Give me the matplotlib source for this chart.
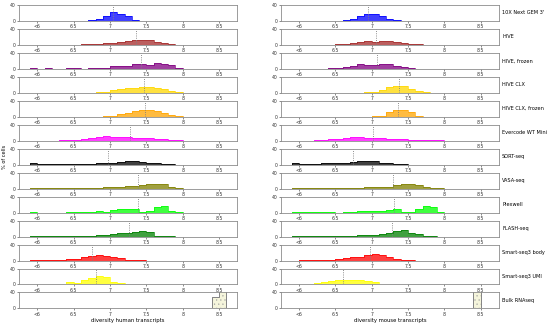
import numpy as np
import matplotlib.pyplot as plt

# bins of 0.1, first bin collects everything below 6
edges = np.round(np.arange(5.9, 8.75, 0.1), 2)

samples = ["10X Next GEM 3'", "HIVE", "HIVE, frozen", "HIVE CLX", "HIVE CLX, frozen",
           "Evercode WT Mini", "SORT-seq", "VASA-seq", "Plexwell", "FLASH-seq",
           "Smart-seq3 body", "Smart-seq3 UMI", "Bulk RNAseq"]
colors = ["blue", "brown", "purple", "gold", "orange", "magenta", "black", "olive",
          "lime", "green", "red", "yellow", "beige"]

xticks = [6, 6.5, 7, 7.5, 8, 8.5]
xticklabels = ["<6", "6.5", "7", "7.5", "8", "8.5"]

# % of cells per bin:  <6 | 6.0-6.4 | 6.5-6.9 | 7.0-7.4 | 7.5-7.9 | 8.0-8.6
h_10x = [0.5, 0.2, 0.2, 0.2, 0.3, 0.3, 0.4, 0.6, 1, 5, 12, 22, 18, 12, 3, 0.5, 0.3, 0, 0, 0, 0, 0, 0, 0, 0, 0, 0, 0]
h_hive = [0.3, 0.2, 0.2, 0.2, 0.3, 0.4, 0.6, 1, 2, 3, 4, 5, 7, 10, 12, 13, 11, 8, 5, 2, 0.5, 0, 0, 0, 0, 0, 0, 0]
h_hive_fr = [2, 0.3, 0.8, 0.3, 0.5, 1.5, 1.5, 0.5, 1, 1, 1.5, 7, 7, 8, 12, 12, 10, 14, 11, 9, 2, 0, 0, 0, 0, 0, 0, 0]
h_clx = [0, 0, 0, 0, 0, 0, 0.2, 0.3, 0.5, 1, 3, 6, 10, 12, 13, 14, 14, 12, 9, 5, 1, 0, 0, 0, 0, 0, 0, 0]
h_clx_fr = [0, 0, 0, 0, 0, 0, 0, 0.2, 0.3, 0.5, 1, 3, 6, 10, 14, 16, 17, 14, 10, 5, 2, 0.3, 0, 0, 0, 0, 0, 0]
h_evercode = [0, 0, 0, 0.3, 0.5, 0.8, 1.5, 3, 6, 8, 11, 10, 9, 8, 7, 7, 6, 5, 3, 2, 1, 0.3, 0, 0, 0, 0, 0, 0]
h_sort = [5, 1.5, 1, 1, 1.5, 1.5, 2, 2, 2.5, 3, 5, 4, 7, 8, 8, 6, 4, 3, 2, 1, 0.3, 0, 0, 0, 0, 0, 0, 0]
h_vasa = [0.3, 0.3, 0.5, 0.5, 1, 1.5, 1.5, 1.5, 2, 2, 3, 3, 5, 6, 7, 8, 11, 12, 12, 4, 1, 0, 0, 0, 0, 0, 0, 0]
h_plex = [1, 0, 0, 0, 0, 0.3, 0.3, 0.5, 0.5, 4, 2, 6, 9, 10, 9, 2, 3, 13, 17, 3, 0.3, 0, 0, 0, 0, 0, 0, 0]
h_flash = [0.2, 0.2, 0.2, 0.2, 0.2, 0.2, 1, 1.5, 2, 3, 4, 6, 8, 10, 11, 13, 11, 2, 1, 0.5, 0, 0, 0, 0, 0, 0, 0, 0]
h_ss3_body = [2, 1, 1, 1.5, 2, 3, 5, 8, 12, 13, 11, 9, 6, 2, 0.5, 0.3, 0, 0, 0, 0, 0, 0, 0, 0, 0, 0, 0, 0]
h_ss3_umi = [0.5, 0.3, 0.3, 0.3, 0.5, 5, 4, 10, 16, 20, 18, 7, 3, 1, 0.3, 0, 0, 0, 0, 0, 0, 0, 0, 0, 0, 0, 0, 0]
h_bulk = [0, 0, 0, 0, 0, 0, 0, 0, 0, 0, 0, 0, 0, 0, 0, 0, 0, 0, 0, 0, 0, 0, 0, 0, 0, 28, 72, 0]

m_10x = [0, 0.2, 0.2, 0.2, 0.2, 0.2, 0.3, 1, 5, 12, 16, 16, 11, 5, 1, 0.3, 0, 0, 0, 0, 0, 0, 0, 0, 0, 0, 0, 0]
m_hive = [0, 0, 0, 0.3, 0.5, 0.5, 1.5, 2.5, 5, 8, 9, 8, 9, 10, 8, 5, 3, 1, 0.5, 0, 0, 0, 0, 0, 0, 0, 0, 0]
m_hive_fr = [0, 0, 0, 0, 0.3, 1, 2, 4, 6, 12, 10, 9, 12, 11, 8, 5, 2, 0.3, 0, 0, 0, 0, 0, 0, 0, 0, 0, 0]
m_clx = [0, 0, 0, 0, 0, 0, 0, 0, 0, 0.3, 1, 3, 8, 14, 17, 16, 9, 4, 1, 0, 0, 0, 0, 0, 0, 0, 0, 0]
m_clx_fr = [0, 0, 0, 0, 0, 0, 0, 0, 0, 0, 0.3, 1, 3, 12, 18, 18, 11, 3, 0.5, 0, 0, 0, 0, 0, 0, 0, 0, 0]
m_evercode = [0, 0, 0.3, 0.5, 1.5, 3, 5, 6, 8, 8, 7, 6, 6, 5, 4, 3, 2, 2, 1, 0.5, 0.5, 0.3, 0.2, 0, 0, 0, 0, 0]
m_sort = [3, 2, 2, 2, 3, 4, 5, 5, 7, 9, 8, 9, 3, 3, 2, 1, 0.3, 0, 0, 0, 0, 0, 0, 0, 0, 0, 0, 0]
m_vasa = [0.5, 1, 0.5, 1, 2, 2, 2, 2, 2.5, 2.5, 4, 3, 4, 5, 9, 12, 12, 10, 4, 2, 0.5, 0, 0, 0, 0, 0, 0, 0]
m_plex = [2, 1, 0.3, 1.5, 1.5, 0.3, 0, 2, 2, 3, 4, 5, 5, 6, 10, 1, 1, 9, 16, 15, 0.3, 0, 0, 0, 0, 0, 0, 0]
m_flash = [0.3, 0.3, 0.3, 0.3, 0.5, 0.5, 1, 1, 2, 3, 4, 5, 6, 10, 14, 17, 9, 6, 2, 0.5, 0, 0, 0, 0, 0, 0, 0, 0]
m_ss3_body = [0, 0.3, 0.3, 0.5, 0.5, 1, 3, 6, 8, 10, 13, 17, 13, 8, 4, 1, 0.3, 0, 0, 0, 0, 0, 0, 0, 0, 0, 0, 0]
m_ss3_umi = [1, 1.5, 2, 4, 6, 8, 12, 10, 12, 10, 8, 5, 2, 0.5, 0, 0, 0, 0, 0, 0, 0, 0, 0, 0, 0, 0, 0, 0]
m_bulk = [0, 0, 0, 0, 0, 0, 0, 0, 0, 0, 0, 0, 0, 0, 0, 0, 0, 0, 0, 0, 0, 0, 0, 0, 0, 100, 0, 0]

human = [h_10x, h_hive, h_hive_fr, h_clx, h_clx_fr, h_evercode, h_sort, h_vasa,
         h_plex, h_flash, h_ss3_body, h_ss3_umi, h_bulk]
mouse = [m_10x, m_hive, m_hive_fr, m_clx, m_clx_fr, m_evercode, m_sort, m_vasa,
         m_plex, m_flash, m_ss3_body, m_ss3_umi, m_bulk]

human_median = [7.04, 7.35, 7.42, 7.46, 7.48, 7.28, 6.97, 7.38, 7.38, 7.26, 6.75, 6.80, None]
mouse_median = [6.95, 7.06, 7.07, 7.38, 7.36, 7.02, 6.74, 7.29, 7.31, 7.28, 6.98, 6.61, None]

plt.rcParams['hatch.linewidth'] = 0.3

fig, axes = plt.subplots(13, 2, figsize=(5.5, 3.24), dpi=100)
fig.subplots_adjust(left=0.035, right=0.907, top=0.985, bottom=0.048, hspace=0.5, wspace=0.2)

columns = [(human, human_median, "diversity human transcripts"),
           (mouse, mouse_median, "diversity mouse transcripts")]

for col, (data, medians, xlabel) in enumerate(columns):
    for row in range(len(samples)):
        ax = axes[row, col]
        vals = data[row]
        c = colors[row]
        if samples[row] == "Bulk RNAseq":
            ax.stairs(vals, edges, fill=True, facecolor=c, edgecolor="0.6",
                      hatch="....", lw=0.6)
            ax.stairs(vals, edges, color="0.5", lw=0.6)
        else:
            ax.stairs(vals, edges, fill=True, color=c, alpha=0.75, lw=0)
            ax.stairs(vals, edges, color=c, lw=0.5)
        if medians[row] is not None:
            ax.axvline(medians[row], color="0.5", ls=(0, (1.2, 1.5)), lw=0.6)

        ax.set_xlim(5.75, 8.75)
        ax.set_ylim(0, 40)
        ax.set_yticks([0, 40])
        ax.set_xticks(xticks)
        ax.set_xticklabels(xticklabels)
        ax.tick_params(labelsize=3.3, length=1.5, width=0.4, pad=1, colors="0.2")
        for sp in ax.spines.values():
            sp.set_color("0.55")
            sp.set_linewidth(0.6)
        if col == 1:
            ax.text(1.015, 0.5, samples[row], transform=ax.transAxes,
                    fontsize=3.6, va="center", ha="left")
    axes[-1, col].set_xlabel(xlabel, fontsize=3.8, labelpad=1)

axes[6, 0].set_ylabel("% of cells", fontsize=3.6, labelpad=2)

fig.savefig("out.png", dpi=100)
